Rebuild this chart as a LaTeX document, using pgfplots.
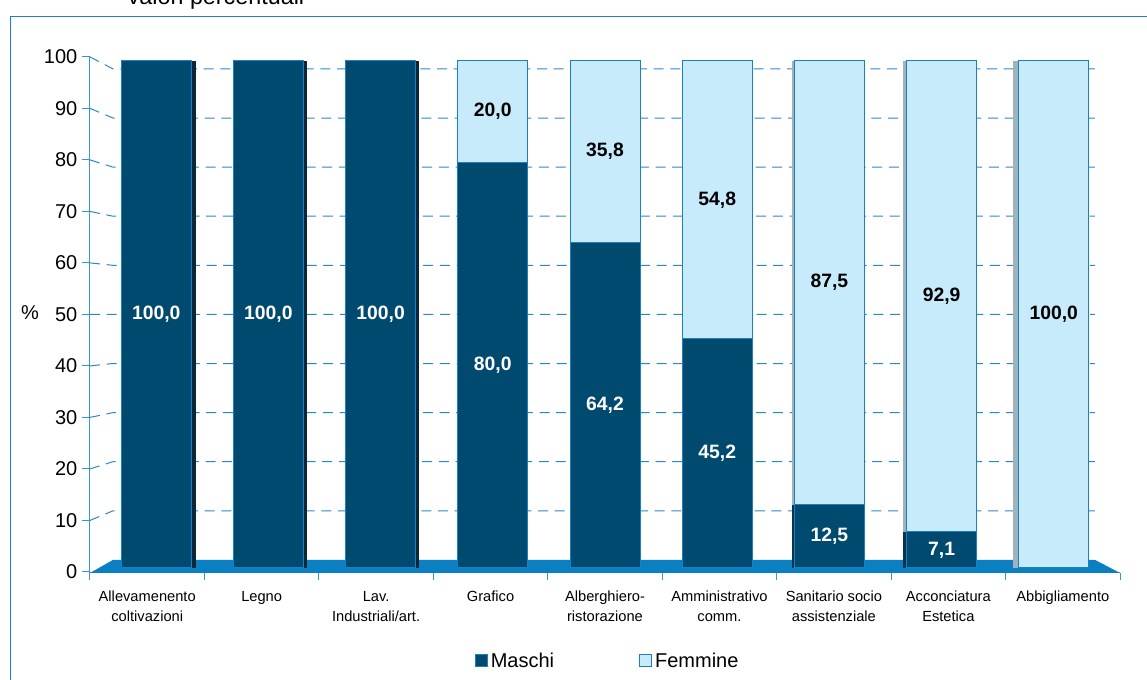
\documentclass[border=0pt]{standalone}
\usepackage{pgfplots}
\pgfplotsset{compat=1.18}
\usepackage{pgfplotstable}
\usepackage{fontspec}
\setmainfont{Liberation Sans}

\definecolor{maschi}{HTML}{004A70}
\definecolor{femmine}{HTML}{C8EBFC}
\definecolor{barline}{HTML}{1A80C2}
\definecolor{floorblue}{HTML}{0A80C2}
\definecolor{axisblue}{HTML}{3A96D2}
\definecolor{gridblue}{HTML}{2A88C8}
\definecolor{framecol}{HTML}{1F7FC0}
\definecolor{sidedark}{HTML}{0B2636}
\definecolor{sidegrey}{HTML}{A0B2BC}
\definecolor{sidenavy}{HTML}{06334D}

% x = category index, m = Maschi (%), f = Femmine (%)
\pgfplotstableread{
x m f
0 100 0
1 100 0
2 100 0
3 80 20
4 64.2 35.8
5 45.2 54.8
6 12.5 87.5
7 7.1 92.9
8 0 100
}\datatab

\pgfplotsset{
  panel/.style={
    at={(67.5pt,80.25pt)}, anchor=south west, scale only axis,
    width=772.5pt, height=387.86pt,
    xmin=-0.59, xmax=8.59, ymin=-1, ymax=101, clip=false,
  },
}

\begin{document}
\begin{tikzpicture}
\clip (0pt,0pt) rectangle (860.25pt,510pt);

\begin{scope}[x=0.75pt,y=0.75pt]
  \draw[framecol, line width=0.75pt] (10,663) rectangle (1170,-20);
  \node[anchor=base, font=\fontsize{17.5}{20}\selectfont] at (216,675) {valori percentuali};
  \node[font=\fontsize{15}{18}\selectfont] at (30,367) {\%};
\end{scope}

% floor, back-wall grid and axes
\begin{axis}[panel,
  axis lines*=left,
  axis line style={draw=axisblue, line width=0.75pt, -},
  tick align=outside,
  major tick length=6pt,
  minor tick length=5.25pt,
  tick style={draw=axisblue, line width=0.75pt},
  major x tick style={draw=none},
  xtick={-0.08,0.94,1.96,2.98,4.00,5.02,6.04,7.06,8.08},
  minor xtick={-0.59,0.43,1.45,2.47,3.49,4.51,5.53,6.55,7.57,8.59},
  xticklabels={Allevamenento\\coltivazioni, Legno, Lav.\\Industriali/art., Grafico,
    Alberghiero-\\ristorazione, Amministrativo\\comm., Sanitario socio\\assistenziale,
    Acconciatura\\Estetica, Abbigliamento},
  xticklabel style={font=\fontsize{11}{15}\selectfont, align=center, anchor=north, yshift=-4pt},
  ytick={-0.789,9.369,19.527,29.685,39.843,50.001,60.159,70.317,80.475,90.633,100.791},
  yticklabels={0,10,20,30,40,50,60,70,80,90,100},
  yticklabel style={font=\fontsize{15}{18}\selectfont},
]
  \fill[floorblue] (axis cs:-0.59,-0.99) -- (axis cs:-0.385,1.578)
     -- (axis cs:8.367,1.578) -- (axis cs:8.59,-0.99) -- cycle;
  \pgfplotsinvokeforeach{10,20,30,40,50,60,70,80,90,100}{
    \draw[gridblue, line width=0.75pt, dash pattern=on 7.5pt off 5pt]
      (axis cs:-0.59,{-0.789+1.0158*#1}) -- (axis cs:-0.385,{1.578+0.9684*#1})
      -- (axis cs:8.367,{1.578+0.9684*#1});
  }
\end{axis}

% side faces of the bars
\begin{axis}[panel, hide axis, ybar]
  \addplot[fill=sidedark, draw=none, bar width=3.75pt, bar shift=28.1pt] coordinates {(0,100)};
  \addplot[fill=sidedark, draw=none, bar width=3pt, bar shift=27.75pt] coordinates {(1,100)};
  \addplot[fill=sidedark, draw=none, bar width=2.25pt, bar shift=27.4pt] coordinates {(2,100)};
  \addplot[fill=sidegrey, draw=none, bar width=1.5pt, bar shift=-27pt] coordinates {(6,100)};
  \addplot[fill=sidenavy, draw=none, bar width=1.5pt, bar shift=-27pt] coordinates {(6,12.5)};
  \addplot[fill=sidegrey, draw=none, bar width=3pt, bar shift=-27.75pt] coordinates {(7,100)};
  \addplot[fill=sidenavy, draw=none, bar width=3pt, bar shift=-27.75pt] coordinates {(7,7.1)};
  \addplot[fill=sidegrey, draw=none, bar width=4.5pt, bar shift=-28.5pt] coordinates {(8,100)};
\end{axis}

% stacked bars and legend
\begin{axis}[panel, hide axis, ybar stacked, bar width=52.5pt,
  legend style={at={(0.503,-0.17)}, anchor=center, draw=none, fill=none,
    legend columns=2, font=\fontsize{15}{18}\selectfont,
    /tikz/every even column/.append style={column sep=62pt}},
  legend image code/.code={\draw[#1] (0pt,-4.5pt) rectangle (9pt,4.5pt);},
]
  \addplot[fill=maschi, draw=barline, line width=0.75pt] table[x=x, y=m] {\datatab};
  \addplot[fill=femmine, draw=barline, line width=0.75pt] table[x=x, y=f] {\datatab};
  \legend{Maschi, Femmine}
\end{axis}

% value labels in the middle of each segment
\begin{axis}[panel, hide axis]
  \addplot[only marks, mark=none, nodes near coords, point meta=explicit symbolic,
    every node near coord/.append style={anchor=center, text=white,
      font=\fontsize{14.5}{17}\selectfont\bfseries}]
    coordinates {(0,50) [100,0] (1,50) [100,0] (2,50) [100,0] (3,40) [80,0]
      (4,32.1) [64,2] (5,22.6) [45,2] (6,6.25) [12,5] (7,3.55) [7,1]};
  \addplot[only marks, mark=none, nodes near coords, point meta=explicit symbolic,
    every node near coord/.append style={anchor=center, text=black,
      font=\fontsize{14.5}{17}\selectfont\bfseries}]
    coordinates {(3,90) [20,0] (4,82.1) [35,8] (5,72.6) [54,8]
      (6,56.25) [87,5] (7,53.55) [92,9] (8,50) [100,0]};
\end{axis}
\end{tikzpicture}
\end{document}
